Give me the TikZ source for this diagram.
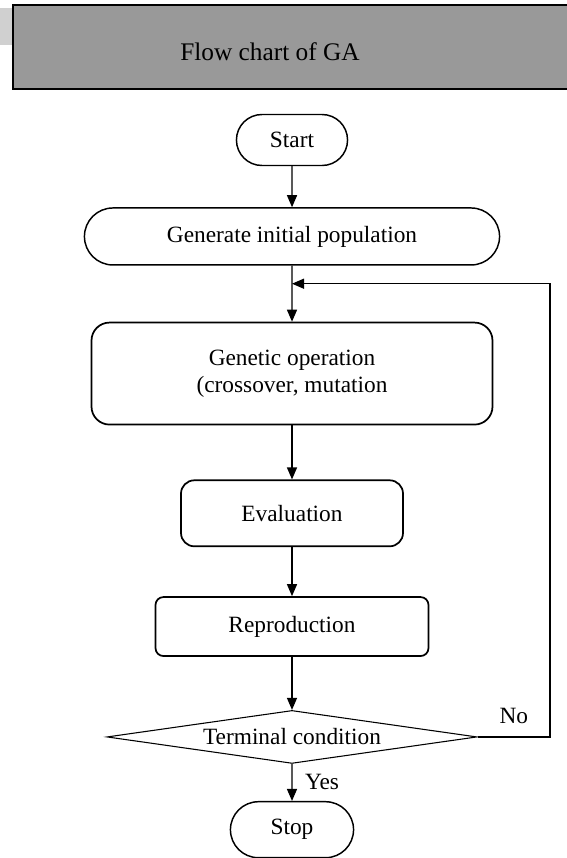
\documentclass[tikz,border=0pt]{standalone}
\usepackage{fontspec}
\setmainfont{Liberation Serif}
\usetikzlibrary{arrows.meta, positioning, shapes.misc, shapes.geometric}
\tikzstyle{flow}=[>={Triangle[length=9pt,width=7.5pt]}, line width=1pt]
\tikzstyle{terminal}=[draw, rounded rectangle, line width=1.1pt]
\tikzstyle{process}=[draw, line width=1.3pt]
\tikzstyle{decision}=[draw, diamond, shape aspect=7, inner sep=0pt, line width=0.8pt]

\begin{document}
\begin{tikzpicture}[flow, font=\fontsize{17.5pt}{20pt}\selectfont]
  \clip (0,0) rectangle (425.25pt,-643.5pt);
  % title bar
  \fill[gray!37] (0,-6pt) rectangle (9.75pt,-34pt);
  \draw[fill=gray!80, line width=1.2pt] (9.75pt,-3.75pt) rectangle (440pt,-66.75pt);
  \node (title) at (202.5pt,-39pt) {\fontsize{19pt}{22pt}\selectfont Flow chart of GA};
  % chart
  \node[terminal, minimum width=90pt, minimum height=38.25pt] (start) at (219pt,-105pt) {Start};
  \node[terminal, minimum width=318pt, minimum height=42.75pt] (init) [below=30.75pt of start] {Generate initial population};
  \node[process, rounded corners=13.5pt, minimum width=300.75pt, minimum height=76.5pt, align=center] (genetic) [below=42pt of init] {Genetic operation\\(crossover, mutation};
  \node[process, rounded corners=10pt, minimum width=166.5pt, minimum height=49.5pt] (eval) [below=40.5pt of genetic] {Evaluation};
  \node[process, rounded corners=6pt, minimum width=204.75pt, minimum height=44.25pt] (repro) [below=36.75pt of eval] {Reproduction};
  \node[decision, minimum width=277.5pt, minimum height=39.75pt] (cond) [below=39.75pt of repro] {Terminal condition};
  \node[terminal, minimum width=99pt, minimum height=42pt] (stop) [below=27.75pt of cond] {Stop};
  \coordinate (join) at ([yshift=-13.5pt]init.south);
  \coordinate (back) at (412.5pt,0);
  \draw[->] (start) -- (init);
  \draw[->] (init) -- (genetic);
  \draw[->] (genetic) -- (eval);
  \draw[->] (eval) -- (repro);
  \draw[->] (repro) -- (cond);
  \draw[->] (cond) -- node[right=6pt] {Yes} (stop);
  \draw[->] (cond.east) -- node[above=6pt] {No} (cond.east -| back) |- (join);
\end{tikzpicture}
\end{document}
